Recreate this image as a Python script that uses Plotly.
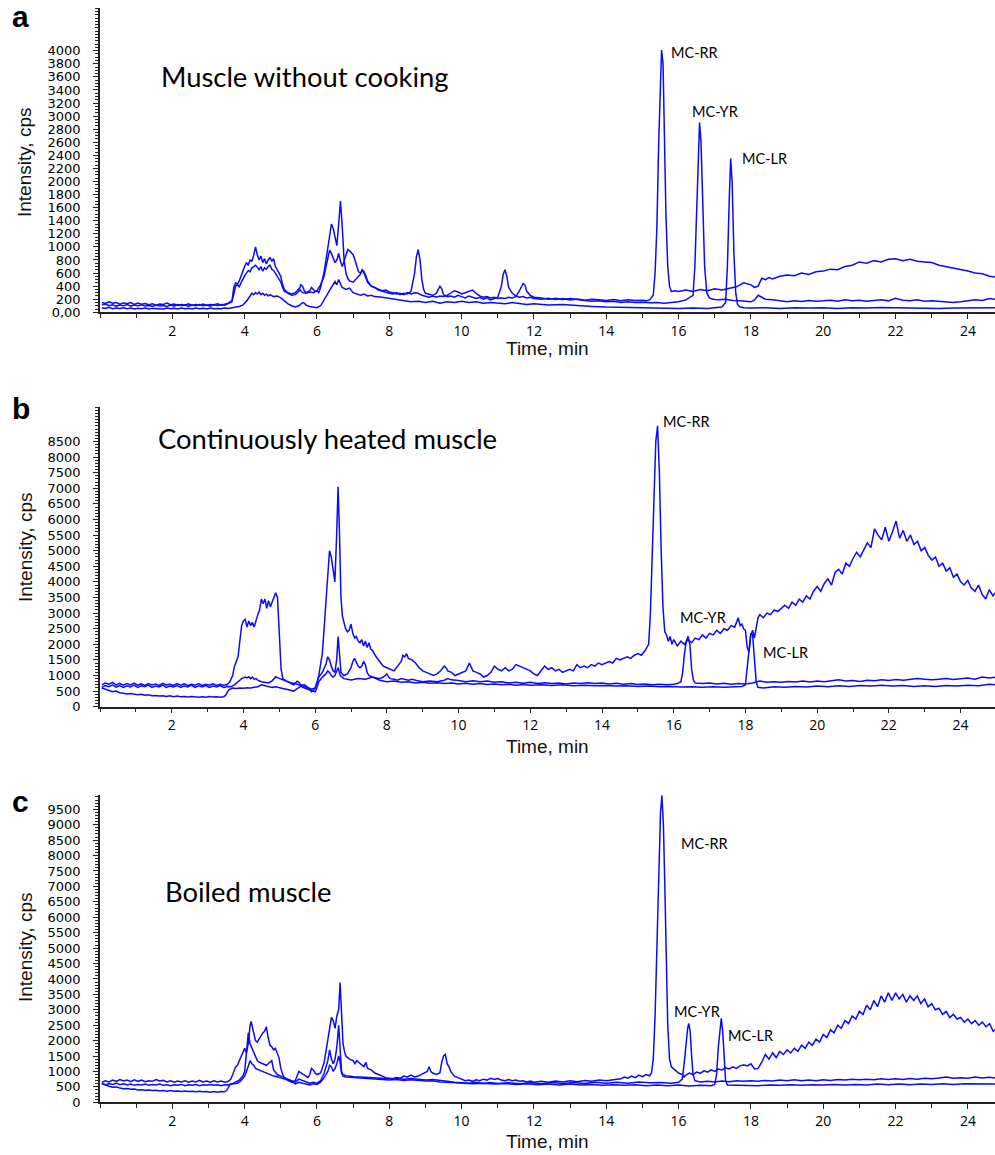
import plotly.graph_objects as go

# ---------------- data (time [min], intensity [cps]) ----------------
A_RR = [(0.05,150),(0.15,135),(0.25,160),(0.35,140),(0.45,150),(0.55,125),(0.65,145),(0.75,130),(0.85,150),(0.95,120),
(1.05,140),(1.15,125),(1.25,135),(1.35,115),(1.45,130),(1.55,110),(1.65,125),(1.75,120),(1.85,140),(1.95,115),
(2.05,125),(2.15,105),(2.25,120),(2.35,110),(2.45,130),(2.55,105),(2.65,120),(2.75,110),(2.85,125),(2.95,105),
(3.05,120),(3.15,115),(3.25,130),(3.35,110),(3.45,125),(3.55,140),(3.65,180),
(3.7,380),(3.75,450),(3.8,430),(3.85,480),(3.9,560),(3.95,650),(4.0,700),(4.05,760),(4.1,720),(4.15,800),(4.2,780),
(4.25,870),(4.3,1000),(4.35,880),(4.4,800),(4.45,860),(4.5,760),(4.55,820),(4.6,740),(4.65,800),(4.7,840),(4.75,780),
(4.8,820),(4.85,700),(4.9,650),(4.95,600),(5.0,550),(5.05,420),(5.1,350),(5.2,290),(5.3,260),(5.4,270),(5.5,320),
(5.55,420),(5.6,400),(5.65,330),(5.7,300),(5.8,330),(5.85,380),(5.9,350),(5.95,320),(6.0,330),(6.05,300),(6.1,380),
(6.15,500),(6.2,620),(6.25,800),(6.3,1000),(6.35,1200),(6.4,1350),(6.45,1280),(6.5,1150),(6.55,1020),(6.6,1350),
(6.65,1700),(6.7,1300),(6.75,800),(6.8,600),(6.85,520),(6.9,480),(7.0,460),(7.1,520),(7.2,580),(7.25,650),(7.3,620),
(7.35,560),(7.4,480),(7.5,400),(7.6,380),(7.7,340),(7.8,320),(7.9,300),(8.0,290),(8.1,280),(8.2,300),(8.3,270),
(8.4,290),(8.5,280),(8.6,320),(8.7,600),(8.75,850),(8.8,960),(8.85,800),(8.9,500),(8.95,350),(9.0,290),(9.1,270),
(9.2,260),(9.3,290),(9.4,400),(9.45,360),(9.5,270),(9.6,240),(9.7,250),(9.8,230),(9.9,260),(10.0,240),(10.1,220),
(10.2,250),(10.3,230),(10.4,210),(10.5,230),(10.6,200),(10.7,220),(10.8,190),(10.9,210),(11.0,230),(11.1,400),
(11.15,580),(11.2,650),(11.25,550),(11.3,380),(11.4,290),(11.5,250),(11.6,230),(11.7,240),(11.8,220),(11.9,230),
(12.0,210),(12.2,200),(12.4,215),(12.6,195),(12.8,210),(13.0,190),(13.2,205),(13.4,185),(13.6,200),(13.8,190),
(14.0,180),(14.2,195),(14.4,175),(14.6,190),(14.8,180),(15.0,185),(15.1,175),(15.2,190),(15.3,260),(15.35,600),
(15.4,1300),(15.45,2600),(15.5,3700),(15.53,4010),(15.57,3800),(15.6,2800),(15.65,1500),(15.7,700),(15.75,400),
(15.8,320),(15.9,330),(16.0,320),(16.2,340),(16.4,320),(16.6,350),(16.8,330),(17.0,360),(17.2,340),(17.4,370),
(17.6,390),(17.8,450),(17.9,440),(18.0,420),(18.1,380),(18.2,400),(18.3,520),(18.4,500),(18.5,530),(18.6,510),
(18.8,550),(19.0,570),(19.2,560),(19.4,600),(19.6,580),(19.8,620),(20.0,630),(20.2,660),(20.4,650),(20.6,700),
(20.8,720),(21.0,770),(21.2,750),(21.4,790),(21.6,770),(21.8,810),(22.0,820),(22.2,790),(22.4,810),(22.6,780),
(22.8,770),(23.0,760),(23.2,720),(23.4,700),(23.6,670),(23.8,650),(24.0,630),(24.2,600),(24.4,590),(24.6,550),(24.75,540)]

A_YR = [(0.05,110),(0.15,125),(0.25,100),(0.35,115),(0.45,95),(0.55,110),(0.65,100),(0.75,120),(0.85,95),(0.95,110),
(1.05,100),(1.15,115),(1.25,95),(1.35,105),(1.45,90),(1.55,110),(1.65,95),(1.75,105),(1.85,90),(1.95,110),
(2.05,95),(2.15,120),(2.25,100),(2.35,115),(2.45,95),(2.55,110),(2.65,100),(2.75,120),(2.85,100),(2.95,110),
(3.05,95),(3.15,115),(3.25,105),(3.35,120),(3.45,110),(3.55,130),(3.65,160),
(3.7,280),(3.75,400),(3.8,420),(3.85,390),(3.9,450),(3.95,520),(4.0,560),(4.05,600),(4.1,640),(4.15,620),(4.2,680),
(4.25,700),(4.3,720),(4.35,690),(4.4,650),(4.45,700),(4.5,630),(4.55,680),(4.6,660),(4.65,700),(4.7,720),(4.75,660),
(4.8,640),(4.85,600),(4.9,560),(4.95,520),(5.0,460),(5.05,380),(5.1,320),(5.2,300),(5.3,280),(5.4,300),(5.5,360),
(5.55,330),(5.6,300),(5.7,290),(5.8,310),(5.9,300),(6.0,330),(6.1,420),(6.2,560),(6.25,700),(6.3,850),(6.35,950),
(6.4,900),(6.45,820),(6.5,760),(6.55,800),(6.6,900),(6.65,780),(6.7,700),(6.75,780),(6.8,880),(6.85,960),(6.9,940),
(6.95,900),(7.0,880),(7.05,800),(7.1,700),(7.15,620),(7.2,600),(7.25,640),(7.3,600),(7.35,520),(7.4,460),(7.5,400),
(7.6,380),(7.7,360),(7.8,330),(7.9,340),(8.0,310),(8.1,300),(8.2,280),(8.3,290),(8.4,270),(8.5,300),(8.6,280),
(8.7,300),(8.8,290),(8.9,260),(9.0,240),(9.1,230),(9.2,250),(9.3,230),(9.4,250),(9.5,240),(9.6,260),(9.7,300),
(9.8,330),(9.9,310),(10.0,280),(10.1,300),(10.2,320),(10.3,340),(10.4,290),(10.5,250),(10.6,230),(10.7,240),
(10.8,220),(10.9,230),(11.0,210),(11.1,220),(11.2,210),(11.3,230),(11.4,220),(11.5,240),(11.6,330),(11.7,440),
(11.75,420),(11.8,320),(11.9,260),(12.0,230),(12.2,220),(12.4,200),(12.6,215),(12.8,195),(13.0,210),(13.2,190),
(13.4,180),(13.6,170),(13.8,175),(14.0,160),(14.2,170),(14.4,150),(14.6,160),(14.8,150),(15.0,155),(15.2,145),
(15.4,150),(15.6,140),(15.8,150),(16.0,160),(16.2,190),(16.3,220),(16.4,260),(16.45,700),(16.5,1600),(16.55,2500),
(16.58,2900),(16.62,2600),(16.67,1600),(16.72,700),(16.78,300),(16.85,220),(16.95,200),(17.1,190),(17.3,200),
(17.5,180),(17.7,175),(17.9,170),(18.0,160),(18.1,190),(18.2,260),(18.3,230),(18.4,200),(18.6,190),(18.8,170),
(19.0,160),(19.2,175),(19.4,165),(19.6,180),(19.8,170),(20.0,175),(20.2,185),(20.4,170),(20.6,190),(20.8,175),
(21.0,185),(21.2,170),(21.4,180),(21.6,190),(21.8,175),(22.0,215),(22.2,185),(22.4,175),(22.6,190),(22.8,170),
(23.0,175),(23.2,165),(23.4,155),(23.6,150),(23.8,160),(24.0,170),(24.2,190),(24.4,180),(24.6,210),(24.75,200)]

A_LR = [(0.05,70),(0.15,60),(0.25,75),(0.35,55),(0.45,65),(0.55,60),(0.65,70),(0.75,55),(0.85,65),(0.95,50),
(1.05,60),(1.15,55),(1.25,65),(1.35,50),(1.45,60),(1.55,55),(1.65,60),(1.75,50),(1.85,65),(1.95,55),
(2.05,60),(2.15,50),(2.25,65),(2.35,55),(2.45,60),(2.55,50),(2.65,65),(2.75,55),(2.85,60),(2.95,50),
(3.05,65),(3.15,55),(3.25,60),(3.35,55),(3.45,65),(3.55,60),(3.65,70),(3.75,75),(3.85,90),(3.95,110),(4.05,170),
(4.15,250),(4.2,290),(4.25,270),(4.3,300),(4.35,280),(4.4,310),(4.45,270),(4.5,290),(4.55,260),(4.6,280),(4.65,250),
(4.7,270),(4.8,240),(4.9,250),(5.0,220),(5.1,170),(5.2,130),(5.3,100),(5.4,80),(5.5,100),(5.6,150),(5.65,140),
(5.7,110),(5.8,90),(5.9,80),(6.0,70),(6.1,100),(6.2,200),(6.3,300),(6.4,380),(6.5,470),(6.55,420),(6.6,500),
(6.65,440),(6.7,380),(6.8,350),(6.9,370),(7.0,300),(7.1,280),(7.2,260),(7.3,280),(7.4,250),(7.5,260),(7.6,240),
(7.8,230),(8.0,210),(8.2,190),(8.4,170),(8.6,160),(8.8,170),(9.0,150),(9.2,170),(9.4,140),(9.6,160),(9.8,150),
(10.0,170),(10.2,150),(10.4,160),(10.6,140),(10.8,150),(11.0,140),(11.2,130),(11.4,150),(11.6,130),(11.8,120),
(12.0,130),(12.4,110),(12.8,120),(13.2,100),(13.6,90),(14.0,80),(14.4,75),(14.8,70),(15.2,65),(15.6,70),(16.0,60),
(16.4,65),(16.8,60),(17.0,70),(17.2,80),(17.3,150),(17.35,700),(17.4,1700),(17.44,2350),(17.48,2000),(17.53,900),
(17.58,300),(17.63,120),(17.7,80),(17.8,70),(18.0,65),(18.4,70),(18.8,60),(19.2,70),(19.6,65),(20.0,70),(20.4,60),
(20.8,70),(21.2,65),(21.6,75),(22.0,70),(22.4,65),(22.8,70),(23.2,60),(23.6,65),(24.0,70),(24.4,65),(24.75,70)]

B_RR = [(0.05,700),(0.15,760),(0.25,720),(0.35,780),(0.45,700),(0.55,750),(0.65,690),(0.75,740),(0.85,700),(0.95,760),
(1.05,690),(1.15,730),(1.25,680),(1.35,740),(1.45,700),(1.55,730),(1.65,680),(1.75,750),(1.85,700),(1.95,720),
(2.05,680),(2.15,740),(2.25,690),(2.35,730),(2.45,680),(2.55,720),(2.65,690),(2.75,740),(2.85,680),(2.95,720),
(3.05,690),(3.15,730),(3.25,680),(3.35,720),(3.45,690),(3.55,710),
(3.62,800),(3.7,1000),(3.75,1300),(3.8,1450),(3.85,1600),(3.9,2100),(3.95,2600),(4.0,2750),(4.05,2800),(4.1,2550),
(4.15,2750),(4.2,2600),(4.25,2700),(4.3,2550),(4.35,2800),(4.4,2950),(4.45,3100),(4.5,3450),(4.55,3300),(4.6,3450),
(4.65,3150),(4.7,3400),(4.75,3200),(4.8,3350),(4.85,3550),(4.9,3650),(4.95,3500),(5.0,2400),(5.05,1200),(5.1,900),
(5.15,850),(5.2,820),(5.3,780),(5.4,760),(5.5,720),(5.6,680),(5.7,700),(5.8,620),(5.9,560),(6.0,600),(6.05,750),
(6.1,1000),(6.15,1300),(6.2,1700),(6.25,2500),(6.3,3400),(6.35,4400),(6.4,5000),(6.45,4800),(6.5,4300),(6.55,4000),
(6.6,5500),(6.64,7050),(6.68,5500),(6.72,3500),(6.76,2900),(6.8,2700),(6.85,2500),(6.9,2400),(6.95,2450),(7.0,2650),
(7.05,2350),(7.1,2200),(7.15,2250),(7.2,2100),(7.25,2050),(7.3,2150),(7.35,1950),(7.4,2100),(7.45,1900),(7.5,2050),
(7.55,1850),(7.6,1800),(7.7,1600),(7.8,1450),(7.9,1300),(8.0,1250),(8.1,1200),(8.2,1150),(8.3,1300),(8.4,1450),
(8.45,1650),(8.5,1600),(8.55,1700),(8.6,1550),(8.7,1500),(8.8,1400),(8.9,1250),(9.0,1150),(9.1,1100),(9.2,1050),
(9.3,1000),(9.4,1050),(9.5,1150),(9.6,1300),(9.65,1250),(9.7,1150),(9.8,1100),(9.9,1000),(10.0,1050),(10.1,1100),
(10.2,1150),(10.3,1400),(10.35,1250),(10.4,1150),(10.5,1100),(10.6,1050),(10.7,950),(10.8,1000),(10.9,1100),
(11.0,1300),(11.1,1200),(11.2,1150),(11.3,1250),(11.4,1150),(11.5,1200),(11.6,1350),(11.7,1300),(11.8,1250),
(11.9,1200),(12.0,1150),(12.1,1050),(12.2,1000),(12.3,1150),(12.4,1300),(12.5,1200),(12.6,1250),(12.7,1150),
(12.8,1200),(12.9,1100),(13.0,1150),(13.1,1200),(13.2,1150),(13.3,1350),(13.4,1250),(13.5,1300),(13.6,1250),
(13.7,1350),(13.8,1300),(13.9,1400),(14.0,1350),(14.1,1400),(14.2,1450),(14.3,1400),(14.4,1550),(14.5,1500),
(14.6,1550),(14.7,1600),(14.8,1550),(14.9,1650),(15.0,1700),(15.1,1650),(15.2,1800),(15.3,2000),(15.35,3000),
(15.4,5000),(15.45,7000),(15.5,8500),(15.55,9000),(15.58,8000),(15.6,7500),(15.65,5000),(15.7,3200),(15.75,2400),
(15.8,2300),(15.85,2100),(15.9,2250),(15.95,2000),(16.0,2150),(16.1,1950),(16.2,2100),(16.3,2000),(16.4,2150),
(16.5,2050),(16.6,2200),(16.7,2150),(16.8,2300),(16.9,2200),(17.0,2350),(17.1,2300),(17.2,2450),(17.3,2350),
(17.4,2500),(17.5,2450),(17.6,2600),(17.7,2550),(17.8,2850),(17.85,2600),(17.9,2650),(17.95,2500),(18.0,2450),
(18.05,1900),(18.1,1750),(18.15,2300),(18.2,2450),(18.25,2200),(18.3,2600),(18.35,2850),(18.4,2950),(18.5,2850),
(18.6,3000),(18.7,2950),(18.8,3100),(18.9,3050),(19.0,3150),(19.1,3250),(19.2,3150),(19.3,3350),(19.4,3250),
(19.5,3450),(19.6,3350),(19.7,3550),(19.8,3450),(19.9,3700),(20.0,3850),(20.1,3700),(20.2,3950),(20.3,4100),
(20.4,3900),(20.5,4300),(20.6,4400),(20.7,4250),(20.8,4600),(20.9,4500),(21.0,4750),(21.1,4950),(21.2,4800),
(21.3,5050),(21.4,5250),(21.5,5100),(21.6,5700),(21.7,5500),(21.8,5350),(21.9,5750),(22.0,5300),(22.1,5600),
(22.2,5950),(22.3,5400),(22.4,5650),(22.5,5300),(22.6,5500),(22.7,5200),(22.8,5300),(22.9,5000),(23.0,5100),
(23.1,4850),(23.2,4700),(23.3,4800),(23.4,4500),(23.5,4600),(23.6,4350),(23.7,4450),(23.8,4150),(23.9,4250),
(24.0,4000),(24.1,3900),(24.2,4050),(24.3,3800),(24.4,3700),(24.5,3900),(24.6,3600),(24.7,3450),(24.8,3750),
(24.9,3550),(24.96,3650)]

B_YR = [(0.05,620),(0.15,680),(0.25,640),(0.35,700),(0.45,630),(0.55,680),(0.65,620),(0.75,670),(0.85,630),(0.95,690),
(1.05,620),(1.15,670),(1.25,640),(1.35,690),(1.45,620),(1.55,660),(1.65,630),(1.75,690),(1.85,620),(1.95,660),
(2.05,630),(2.15,680),(2.25,620),(2.35,660),(2.45,630),(2.55,690),(2.65,620),(2.75,670),(2.85,630),(2.95,680),
(3.05,620),(3.15,660),(3.25,630),(3.35,680),(3.45,620),(3.55,650),(3.65,640),(3.75,700),(3.85,800),(3.95,900),
(4.05,950),(4.1,920),(4.15,960),(4.2,900),(4.25,950),(4.3,880),(4.35,900),(4.4,850),(4.5,800),(4.6,780),(4.7,760),
(4.8,830),(4.85,900),(4.9,960),(4.95,930),(5.0,900),(5.1,860),(5.2,820),(5.3,760),(5.4,700),(5.5,820),(5.55,780),
(5.6,700),(5.7,650),(5.8,600),(5.9,480),(5.95,520),(6.0,600),(6.05,800),(6.1,950),(6.2,1100),(6.3,1350),(6.35,1600),
(6.4,1500),(6.45,1300),(6.5,1150),(6.55,1100),(6.6,1500),(6.64,2250),(6.68,1500),(6.72,1100),(6.8,1000),(6.9,1050),
(7.0,1250),(7.05,1450),(7.1,1550),(7.15,1400),(7.2,1300),(7.25,1250),(7.3,1300),(7.35,1450),(7.4,1350),(7.45,1100),
(7.5,1000),(7.6,950),(7.7,930),(7.8,900),(7.9,950),(8.0,1050),(8.05,950),(8.1,900),(8.2,880),(8.3,850),(8.4,900),
(8.5,870),(8.6,850),(8.7,880),(8.8,840),(8.9,820),(9.0,800),(9.2,820),(9.4,800),(9.6,850),(9.7,900),(9.8,860),
(10.0,840),(10.2,800),(10.4,830),(10.6,800),(10.8,820),(11.0,780),(11.2,800),(11.4,760),(11.6,780),(11.8,750),
(12.0,780),(12.2,740),(12.4,770),(12.6,740),(12.8,760),(13.0,730),(13.2,760),(13.4,740),(13.6,770),(13.8,740),
(14.0,760),(14.2,730),(14.4,750),(14.6,720),(14.8,740),(15.0,710),(15.2,730),(15.4,700),(15.6,720),(15.8,700),
(16.0,720),(16.1,740),(16.2,800),(16.25,1100),(16.3,1700),(16.35,2100),(16.4,2250),(16.45,2000),(16.5,1200),
(16.55,850),(16.6,760),(16.8,740),(17.0,760),(17.2,730),(17.4,750),(17.6,720),(17.8,740),(18.0,730),(18.2,760),
(18.4,820),(18.6,780),(18.8,800),(19.0,780),(19.2,810),(19.4,790),(19.6,820),(19.8,790),(20.0,820),(20.2,800),
(20.4,840),(20.6,860),(20.8,820),(21.0,840),(21.2,810),(21.4,850),(21.6,830),(21.8,860),(22.0,840),(22.2,870),
(22.4,850),(22.6,870),(22.8,900),(23.0,880),(23.2,860),(23.4,880),(23.6,900),(23.8,870),(24.0,890),(24.2,920),
(24.4,880),(24.6,950),(24.8,920),(24.96,940)]

B_LR = [(0.05,600),(0.15,560),(0.25,520),(0.35,480),(0.45,500),(0.55,450),(0.65,430),(0.75,410),(0.85,420),(0.95,390),
(1.05,380),(1.15,400),(1.25,370),(1.35,380),(1.45,350),(1.55,360),(1.65,340),(1.75,350),(1.85,330),(1.95,350),
(2.05,320),(2.15,340),(2.25,320),(2.35,330),(2.45,310),(2.55,330),(2.65,310),(2.75,300),(2.85,320),(2.95,300),
(3.05,330),(3.15,310),(3.25,320),(3.35,300),(3.45,320),(3.5,360),(3.55,460),(3.6,550),(3.7,600),(3.8,580),(3.9,600),
(4.0,590),(4.1,610),(4.2,600),(4.3,620),(4.4,640),(4.5,700),(4.6,680),(4.7,650),(4.8,620),(4.9,640),(5.0,600),
(5.1,580),(5.2,560),(5.3,520),(5.4,500),(5.5,580),(5.6,650),(5.7,600),(5.8,560),(5.9,520),(6.0,480),(6.05,600),
(6.1,800),(6.2,950),(6.3,1050),(6.35,1150),(6.4,1100),(6.45,1000),(6.5,950),(6.55,1000),(6.6,1150),(6.64,1250),
(6.7,1000),(6.8,900),(6.9,880),(7.0,860),(7.2,900),(7.4,880),(7.6,950),(7.8,850),(8.0,800),(8.2,820),(8.4,780),
(8.6,800),(8.8,760),(9.0,780),(9.2,750),(9.4,770),(9.6,740),(9.8,760),(10.0,730),(10.2,750),(10.4,720),(10.6,740),
(10.8,710),(11.0,730),(11.2,700),(11.4,720),(11.6,690),(11.8,710),(12.0,690),(12.3,700),(12.6,680),(12.9,700),
(13.2,670),(13.5,690),(13.8,670),(14.1,680),(14.4,660),(14.7,670),(15.0,650),(15.3,660),(15.6,640),(15.9,650),
(16.2,630),(16.5,640),(16.8,620),(17.1,640),(17.4,620),(17.7,640),(17.9,650),(18.0,700),(18.05,1200),(18.1,1900),
(18.15,2350),(18.2,2300),(18.25,1600),(18.3,800),(18.35,620),(18.5,600),(18.8,640),(19.1,620),(19.4,650),(19.7,630),
(20.0,660),(20.3,640),(20.6,670),(20.9,650),(21.2,680),(21.5,660),(21.8,690),(22.1,660),(22.4,680),(22.7,650),
(23.0,670),(23.3,650),(23.6,680),(23.9,660),(24.2,690),(24.5,670),(24.8,720),(24.96,700)]

C_RR = [(0.05,650),(0.15,700),(0.25,660),(0.35,720),(0.45,680),(0.55,740),(0.65,690),(0.75,720),(0.85,670),(0.95,730),
(1.05,680),(1.15,720),(1.25,670),(1.35,700),(1.45,680),(1.55,740),(1.65,690),(1.75,710),(1.85,660),(1.95,700),
(2.05,650),(2.15,690),(2.25,660),(2.35,700),(2.45,650),(2.55,690),(2.65,660),(2.75,710),(2.85,660),(2.95,690),
(3.05,650),(3.15,700),(3.25,660),(3.35,690),(3.45,650),(3.55,680),(3.62,750),(3.7,1000),(3.75,1150),(3.8,1200),
(3.85,1350),(3.9,1500),(3.95,1650),(4.0,1750),(4.05,1600),(4.1,1900),(4.15,2500),(4.18,2620),(4.22,2400),(4.25,2200),
(4.3,2000),(4.35,1950),(4.4,2050),(4.45,2150),(4.5,2250),(4.55,2300),(4.6,2450),(4.65,2100),(4.7,1850),(4.75,1800),
(4.8,1700),(4.85,1750),(4.9,1600),(4.95,1450),(5.0,1100),(5.05,900),(5.1,800),(5.2,700),(5.3,650),(5.4,700),
(5.5,1000),(5.55,950),(5.6,920),(5.7,850),(5.75,800),(5.8,900),(5.85,1100),(5.9,1050),(5.95,950),(6.0,900),
(6.1,950),(6.2,1300),(6.25,1700),(6.3,2100),(6.35,2500),(6.4,2750),(6.45,2650),(6.5,2400),(6.55,2800),(6.6,3000),
(6.64,3880),(6.68,2600),(6.72,1900),(6.76,1650),(6.8,1500),(6.85,1450),(6.9,1400),(7.0,1350),(7.05,1250),(7.1,1350),
(7.2,1250),(7.3,1150),(7.35,1300),(7.4,1100),(7.5,1050),(7.6,950),(7.7,900),(7.8,850),(7.9,800),(8.0,780),(8.1,760),
(8.2,800),(8.3,780),(8.4,850),(8.5,820),(8.6,880),(8.7,820),(8.8,850),(8.9,900),(9.0,950),(9.05,1000),(9.1,1150),
(9.15,1000),(9.2,950),(9.3,900),(9.4,950),(9.45,1300),(9.5,1500),(9.55,1550),(9.6,1250),(9.65,1150),(9.7,1000),
(9.8,850),(9.9,800),(10.0,750),(10.1,700),(10.2,720),(10.3,680),(10.4,730),(10.5,700),(10.6,750),(10.7,720),
(10.8,780),(10.9,740),(11.0,770),(11.1,720),(11.2,700),(11.3,740),(11.4,700),(11.5,720),(11.6,680),(11.7,700),
(11.8,660),(11.9,690),(12.0,650),(12.2,680),(12.4,650),(12.6,690),(12.8,660),(13.0,700),(13.2,670),(13.4,710),
(13.6,680),(13.8,720),(14.0,700),(14.2,740),(14.4,760),(14.5,820),(14.6,780),(14.7,850),(14.8,800),(14.9,880),
(15.0,830),(15.1,900),(15.2,860),(15.25,950),(15.3,1400),(15.35,2800),(15.4,5200),(15.45,7800),(15.5,9400),
(15.54,9950),(15.58,9000),(15.62,7000),(15.66,4500),(15.7,2500),(15.75,1400),(15.8,1150),(15.85,1100),(15.9,1050),
(16.0,950),(16.1,900),(16.15,820),(16.2,880),(16.3,950),(16.4,900),(16.5,980),(16.6,940),(16.7,1020),(16.8,980),
(16.9,1050),(17.0,1000),(17.1,1080),(17.2,1050),(17.3,1120),(17.4,1080),(17.5,1150),(17.6,1100),(17.7,1180),
(17.8,1220),(17.9,1180),(18.0,1250),(18.1,1080),(18.2,1100),(18.3,1300),(18.4,1550),(18.5,1400),(18.6,1600),
(18.7,1450),(18.8,1650),(18.9,1550),(19.0,1700),(19.1,1600),(19.2,1750),(19.3,1650),(19.4,1850),(19.5,1750),
(19.6,1950),(19.7,1850),(19.8,2050),(19.9,1950),(20.0,2200),(20.1,2100),(20.2,2350),(20.3,2250),(20.4,2500),
(20.5,2400),(20.6,2650),(20.7,2550),(20.8,2800),(20.9,2700),(21.0,2950),(21.1,2850),(21.2,3150),(21.3,3000),
(21.4,3300),(21.5,3100),(21.6,3450),(21.7,3250),(21.8,3550),(21.9,3300),(22.0,3550),(22.1,3350),(22.2,3500),
(22.3,3250),(22.4,3450),(22.5,3300),(22.6,3450),(22.7,3200),(22.8,3350),(22.9,3100),(23.0,3200),(23.1,3000),
(23.2,3050),(23.3,2850),(23.4,2950),(23.5,2750),(23.6,2850),(23.7,2700),(23.8,2750),(23.9,2600),(24.0,2700),
(24.1,2550),(24.2,2650),(24.3,2500),(24.4,2600),(24.5,2450),(24.6,2550),(24.7,2300),(24.75,2350)]

C_YR = [(0.05,600),(0.15,560),(0.25,610),(0.35,580),(0.45,620),(0.55,570),(0.65,600),(0.75,560),(0.85,590),(0.95,550),
(1.05,580),(1.15,560),(1.25,590),(1.35,550),(1.45,580),(1.55,560),(1.65,590),(1.75,550),(1.85,570),(1.95,540),
(2.05,570),(2.15,550),(2.25,580),(2.35,540),(2.45,570),(2.55,550),(2.65,580),(2.75,540),(2.85,570),(2.95,550),
(3.05,580),(3.15,550),(3.25,570),(3.35,540),(3.45,570),(3.55,560),(3.65,600),(3.75,650),(3.85,720),(3.95,850),
(4.0,1000),(4.05,1600),(4.1,2250),(4.15,1900),(4.2,1750),(4.25,1600),(4.3,1450),(4.35,1350),(4.4,1300),(4.5,1250),
(4.6,1200),(4.65,1250),(4.7,1300),(4.75,1350),(4.8,1050),(4.9,900),(5.0,850),(5.1,800),(5.2,750),(5.3,700),
(5.4,650),(5.5,750),(5.6,700),(5.7,650),(5.8,620),(5.9,650),(6.0,620),(6.1,700),(6.2,950),(6.3,1350),(6.35,1700),
(6.4,1400),(6.45,1250),(6.5,1400),(6.55,1800),(6.6,2500),(6.64,1700),(6.68,1000),(6.72,900),(6.8,860),(6.9,850),
(7.0,830),(7.2,820),(7.4,800),(7.6,790),(7.8,780),(8.0,760),(8.2,780),(8.4,750),(8.6,770),(8.8,740),(9.0,720),
(9.2,740),(9.4,700),(9.6,680),(9.8,650),(10.0,640),(10.2,620),(10.4,650),(10.6,610),(10.8,640),(11.0,610),
(11.3,630),(11.6,600),(11.9,630),(12.2,600),(12.5,640),(12.8,610),(13.1,640),(13.4,610),(13.7,650),(14.0,620),
(14.3,650),(14.6,620),(14.9,660),(15.2,630),(15.5,640),(15.8,620),(16.0,650),(16.1,750),(16.15,1200),(16.2,1900),
(16.25,2400),(16.28,2560),(16.32,2300),(16.36,1500),(16.4,900),(16.45,700),(16.6,660),(16.8,680),(17.0,660),
(17.2,690),(17.4,670),(17.6,700),(17.8,680),(18.0,700),(18.2,680),(18.4,710),(18.6,690),(18.8,720),(19.0,700),
(19.2,730),(19.4,700),(19.6,720),(19.8,700),(20.0,730),(20.2,710),(20.4,740),(20.6,720),(20.8,750),(21.0,730),
(21.2,750),(21.4,730),(21.6,760),(21.8,740),(22.0,760),(22.2,740),(22.4,770),(22.6,750),(22.8,780),(23.0,760),
(23.2,790),(23.4,820),(23.6,780),(23.8,800),(24.0,780),(24.2,820),(24.4,790),(24.6,810),(24.75,790)]

C_LR = [(0.05,620),(0.15,560),(0.25,520),(0.35,490),(0.45,500),(0.55,460),(0.65,440),(0.75,450),(0.85,420),(0.95,430),
(1.05,400),(1.15,410),(1.25,390),(1.35,400),(1.45,380),(1.55,390),(1.65,370),(1.75,380),(1.85,360),(1.95,380),
(2.05,360),(2.15,370),(2.25,350),(2.35,370),(2.45,350),(2.55,360),(2.65,340),(2.75,360),(2.85,340),(2.95,350),
(3.05,330),(3.15,350),(3.25,330),(3.35,350),(3.45,340),(3.5,380),(3.55,500),(3.6,580),(3.7,600),(3.8,620),(3.9,700),
(4.0,850),(4.05,1000),(4.1,1200),(4.15,1350),(4.2,1250),(4.25,1200),(4.3,1100),(4.4,1050),(4.5,1000),(4.6,950),
(4.7,900),(4.8,850),(4.9,830),(5.0,800),(5.1,760),(5.2,720),(5.3,680),(5.4,600),(5.5,650),(5.6,620),(5.7,580),
(5.8,560),(5.9,600),(6.0,580),(6.1,650),(6.2,800),(6.3,1000),(6.35,1200),(6.4,1150),(6.45,1000),(6.5,1100),
(6.55,1250),(6.6,1500),(6.64,1300),(6.68,950),(6.72,850),(6.8,820),(7.0,800),(7.2,780),(7.4,770),(7.6,750),
(7.8,740),(8.0,720),(8.2,740),(8.4,710),(8.6,730),(8.8,700),(9.0,690),(9.2,700),(9.4,660),(9.6,650),(9.8,630),
(10.0,620),(10.3,600),(10.6,620),(10.9,590),(11.2,610),(11.5,580),(11.8,600),(12.1,570),(12.4,590),(12.7,560),
(13.0,590),(13.3,560),(13.6,580),(13.9,550),(14.2,570),(14.5,550),(14.8,570),(15.1,540),(15.4,560),(15.7,540),
(16.0,560),(16.3,530),(16.6,550),(16.9,540),(17.0,580),(17.05,900),(17.1,1800),(17.15,2500),(17.18,2720),
(17.22,2300),(17.26,1300),(17.3,700),(17.35,560),(17.6,550),(17.9,560),(18.2,540),(18.5,560),(18.8,550),
(19.1,570),(19.4,550),(19.7,570),(20.0,560),(20.3,580),(20.6,560),(20.9,580),(21.2,560),(21.5,590),(21.8,570),
(22.1,590),(22.4,570),(22.7,590),(23.0,580),(23.3,600),(23.6,580),(23.9,600),(24.2,590),(24.5,600),(24.75,590)]

X_TICKS = [2, 4, 6, 8, 10, 12, 14, 16, 18, 20, 22, 24]
A_YTICKS = [0, 200, 400, 600, 800, 1000, 1200, 1400, 1600, 1800, 2000, 2200, 2400, 2600, 2800, 3000,
            3200, 3400, 3600, 3800, 4000]
B_YTICKS = [0, 500, 1000, 1500, 2000, 2500, 3000, 3500, 4000, 4500, 5000, 5500, 6000, 6500, 7000, 7500, 8000, 8500]
C_YTICKS = [0, 500, 1000, 1500, 2000, 2500, 3000, 3500, 4000, 4500, 5000, 5500, 6000, 6500, 7000, 7500, 8000,
            8500, 9000, 9500]
PANEL_TITLES = ["Muscle without cooking", "Continuously heated muscle", "Boiled muscle"]
PANEL_LETTERS = ["a", "b", "c"]
PEAK_NAMES = ["MC-RR", "MC-YR", "MC-LR"]

# ---------------- layout geometry (pixels) ----------------
W, H = 995, 1155
def py(p):
    return 1 - p / H

LINE = "#0a0aff"
panels = [
    dict(series=[A_RR, A_YR, A_LR], ytick=A_YTICKS, top=8, bottom=312.3, yr=4653, xr=[0, 24.75], minor=50,
         zero="0,00"),
    dict(series=[B_RR, B_YR, B_LR], ytick=B_YTICKS, top=406.7, bottom=706.7, yr=9615, xr=[0, 24.96], minor=100,
         zero="0"),
    dict(series=[C_RR, C_YR, C_LR], ytick=C_YTICKS, top=795, bottom=1102.3, yr=9964, xr=[0, 24.75], minor=100,
         zero="0"),
]

fig = go.Figure()
layout = dict(width=W, height=H, margin=dict(l=0, r=0, t=0, b=0, pad=0, autoexpand=False),
              paper_bgcolor="white", plot_bgcolor="white", showlegend=False)

for i, p in enumerate(panels):
    n = "" if i == 0 else str(i + 1)
    for s in p["series"]:
        t = [q[0] for q in s]
        v = [q[1] for q in s]
        fig.add_trace(go.Scatter(x=t, y=v, mode="lines", line=dict(color=LINE, width=1.5),
                                 xaxis="x" + n, yaxis="y" + n, hoverinfo="skip"))
    ytext = [p["zero"] if val == 0 else str(val) for val in p["ytick"]]
    layout["xaxis" + n] = dict(domain=[100 / W, 1], range=p["xr"], anchor="y" + n, automargin=False,
                               showgrid=False, zeroline=False, showline=True, linecolor="#222",
                               linewidth=1.5, ticks="outside", ticklen=5, tickcolor="#222",
                               tickmode="array", tickvals=X_TICKS,
                               tickfont=dict(family="Open Sans", size=14, color="black"),
                               minor=dict(dtick=1, tick0=0, ticks="outside", ticklen=4, tickcolor="#222",
                                          showgrid=False))
    layout["yaxis" + n] = dict(domain=[py(p["bottom"]), py(p["top"])], range=[0, p["yr"]],
                               anchor="x" + n, automargin=False, showgrid=False, zeroline=False, showline=True,
                               linecolor="#222", linewidth=1.5, ticks="outside", ticklen=5,
                               tickcolor="#222", tickmode="array", tickvals=p["ytick"], ticktext=ytext,
                               ticklabelstandoff=10,
                               tickfont=dict(family="DejaVu Sans", size=13, color="black"),
                               minor=dict(dtick=p["minor"], tick0=0, ticks="outside", ticklen=3,
                                          tickcolor="#222", showgrid=False))

ann = []
# panel letters
for letter, yc in zip(PANEL_LETTERS, [16, 409, 801]):
    ann.append(dict(text="<b>%s</b>" % letter, x=10 / W, y=py(yc), xanchor="left", yanchor="middle",
                    font=dict(family="Liberation Sans", size=30, color="black")))
# panel titles
for title, (xl, yc) in zip(PANEL_TITLES, [(159, 77), (156, 438), (163, 891)]):
    ann.append(dict(text=title, x=xl / W, y=py(yc), xanchor="left", yanchor="middle",
                    font=dict(family="Lato", size=27.4, color="black")))
# y titles and x titles
for yc in [163, 548, 948]:
    ann.append(dict(text="Intensity, cps", x=25 / W, y=py(yc), xanchor="center", yanchor="middle",
                    textangle=-90, font=dict(family="Liberation Sans", size=19, color="#111")))
for yc in [348, 746, 1141]:
    ann.append(dict(text="Time, min", x=547 / W, y=py(yc), xanchor="center", yanchor="middle",
                    font=dict(family="Liberation Sans", size=19, color="#111")))
# peak labels
peak_pos = [
    [(669, 52), (690, 112), (740, 159)],
    [(661, 422), (678, 617), (761, 652)],
    [(679, 844), (672, 1011), (726, 1035)],
]
for row in peak_pos:
    for name, (xl, yc) in zip(PEAK_NAMES, row):
        ann.append(dict(text=name, x=xl / W, y=py(yc), xanchor="left", yanchor="middle",
                        font=dict(family="Lato", size=14.5, color="black")))
for a in ann:
    a.update(xref="paper", yref="paper", showarrow=False)
layout["annotations"] = ann

fig.update_layout(**layout)
fig.write_html("out.html", config={"displayModeBar": False},
               post_script="document.body.style.margin='0px';document.body.style.overflow='hidden';")
